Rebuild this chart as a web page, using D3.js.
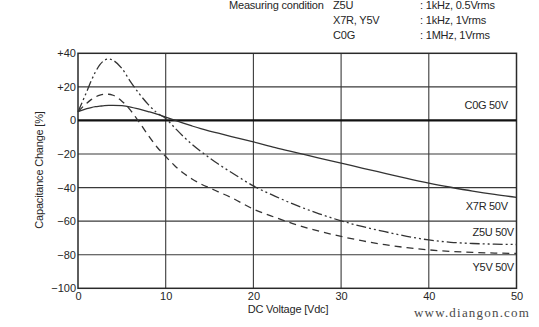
<!DOCTYPE html>
<html>
<head>
<meta charset="utf-8">
<script src="https://cdn.jsdelivr.net/npm/d3@7/dist/d3.min.js"></script>
<style>
  html, body { margin: 0; padding: 0; background: #fff; }
  svg { display: block; }
  text { font-family: "Liberation Sans", Arial, sans-serif; fill: #262626; }
  text.site { font-family: "Liberation Serif", "DejaVu Serif", serif; fill: #4a4a4a; }
</style>
</head>
<body>
<svg id="chart" width="539" height="327"></svg>
<script>
// DC bias characteristics of ceramic capacitor dielectrics (50 V parts)
const volts = [0, 1, 1.5, 2, 2.5, 3, 3.5, 4, 5, 6, 7, 8, 9, 10, 11, 12, 13, 14, 15, 16,
               17.5, 20, 22.5, 25, 27.5, 30, 32.5, 35, 37.5, 40, 42.5, 45, 47.5, 50];

const capX7R = [5.2, 7, 7.7, 8.2, 8.5, 8.8, 8.95, 9, 8.8, 8, 6.7, 5.3, 3.8, 2.0, 0.2, -1.6, -3.3, -4.9, -6.3, -7.6,
                -9.6, -12.8, -16.2, -19.3, -22.4, -25.4, -28.5, -31.5, -34.5, -37.3, -39.8, -42.1, -44.1, -45.8];

const capZ5U = [5.2, 17.2, 23.5, 29.0, 33.2, 35.8, 36.6, 35.8, 31, 23, 15.8, 9.6, 4.6, 1.2, -4.2, -9.5, -14.2, -18.4, -22.3, -26,
                -31, -39, -45.2, -50.8, -55.6, -59.8, -63.3, -66.3, -69, -71.2, -72.6, -73.3, -73.7, -73.9];

const capY5V = [5.2, 10.3, 12.4, 14, 15.1, 15.6, 15.6, 15, 11.5, 6, -1.2, -8.8, -15.8, -21.5, -26.8, -31.3, -34.9, -37.8, -40.2, -42.5,
                -46, -52.8, -57.8, -62.3, -66, -69.1, -71.8, -74, -75.8, -77.1, -78, -78.6, -79, -79.2];

const voltsC0G = [0, 50];
const capC0G = [0, 0];

const xTicks = [0, 10, 20, 30, 40, 50];
const yTicks = [40, 20, 0, -20, -40, -60, -80, -100];

const seriesLabels = [
  { name: "C0G 50V", v: 49, c: 7 },
  { name: "X7R 50V", v: 49, c: -53.5 },
  { name: "Z5U 50V", v: 49.7, c: -69 },
  { name: "Y5V 50V", v: 49.7, c: -89.5 }
];

const conditionRows = [
  ["Measuring condition", "Z5U", ": 1kHz, 0.5Vrms"],
  ["", "X7R, Y5V", ": 1kHz, 1Vrms"],
  ["", "C0G", ": 1MHz, 1Vrms"]
];

const svg = d3.select("#chart");
const plotL = 78, plotR = 516.5, plotT = 53.3, plotB = 288.3;

const x = d3.scaleLinear().domain([0, 50]).range([plotL, plotR]);
const y = d3.scaleLinear().domain([-100, 40]).range([plotB, plotT]);

// grid
const grid = svg.append("g").attr("stroke", "#3a3a3a").attr("stroke-width", 1.1);
grid.selectAll("line.v").data(xTicks.filter(d => d > 0 && d < 50)).join("line")
  .attr("class", "v")
  .attr("x1", d => x(d)).attr("x2", d => x(d)).attr("y1", plotT).attr("y2", plotB);
grid.selectAll("line.h").data(yTicks.filter(d => d !== 0 && d > -100 && d < 40)).join("line")
  .attr("class", "h")
  .attr("x1", plotL).attr("x2", plotR).attr("y1", d => y(d)).attr("y2", d => y(d));

// frame
svg.append("rect").attr("x", plotL).attr("y", plotT)
  .attr("width", plotR - plotL).attr("height", plotB - plotT)
  .attr("fill", "none").attr("stroke", "#2a2a2a").attr("stroke-width", 1.5);

// axes
const fmt = d => d > 0 ? "+" + d : (d < 0 ? "\u2212" + Math.abs(d) : "0");
const yAxis = svg.append("g").attr("transform", `translate(${plotL},0)`)
  .call(d3.axisLeft(y).tickValues(yTicks).tickSize(0).tickPadding(2).tickFormat(fmt));
const xAxis = svg.append("g").attr("transform", `translate(0,${plotB})`)
  .call(d3.axisBottom(x).tickValues(xTicks).tickSize(0).tickPadding(4));
[yAxis, xAxis].forEach(a => {
  a.select(".domain").remove();
  a.selectAll("text").attr("font-size", 11).attr("fill", "#262626");
});

// curves
const line = d3.line().x(d => x(d[0])).y(d => y(d[1])).curve(d3.curveMonotoneX);
const curves = [
  { v: voltsC0G, c: capC0G, w: 2.2, dash: null, col: "#111" },
  { v: volts, c: capX7R, w: 1.3, dash: null, col: "#333" },
  { v: volts, c: capZ5U, w: 1.3, dash: "10,3,2,3,2,3", col: "#333" },
  { v: volts, c: capY5V, w: 1.3, dash: "7,5", col: "#333" }
];
svg.append("g").selectAll("path").data(curves).join("path")
  .attr("d", s => line(s.v.map((v, i) => [v, s.c[i]])))
  .attr("fill", "none")
  .attr("stroke", s => s.col)
  .attr("stroke-width", s => s.w)
  .attr("stroke-dasharray", s => s.dash);

// series labels
svg.append("g").selectAll("text").data(seriesLabels).join("text")
  .attr("x", d => x(d.v)).attr("y", d => y(d.c))
  .attr("text-anchor", "end").attr("font-size", 11).attr("letter-spacing", -0.3)
  .text(d => d.name);

// axis titles
svg.append("text").attr("x", 288).attr("y", 313).attr("text-anchor", "middle")
  .attr("font-size", 11).attr("letter-spacing", -0.2).text("DC Voltage [Vdc]");
svg.append("text").attr("transform", "translate(43,170) rotate(-90)")
  .attr("text-anchor", "middle").attr("font-size", 11).attr("letter-spacing", -0.2)
  .text("Capacitance Change [%]");

// measuring conditions header
const hdr = svg.append("g").attr("font-size", 11);
conditionRows.forEach((r, i) => {
  const yy = 9 + i * 14.8;
  if (r[0]) hdr.append("text").attr("x", 229).attr("y", yy).attr("letter-spacing", -0.2).text(r[0]);
  hdr.append("text").attr("x", 333).attr("y", yy).attr("letter-spacing", -0.2).text(r[1]);
  hdr.append("text").attr("x", 420).attr("y", yy).attr("letter-spacing", -0.2).text(r[2]);
});

// site mark
svg.append("text").attr("class", "site").attr("x", 414).attr("y", 317)
  .attr("font-size", 13).attr("letter-spacing", 1.2)
  .text("www.diangon.com");
</script>
</body>
</html>
